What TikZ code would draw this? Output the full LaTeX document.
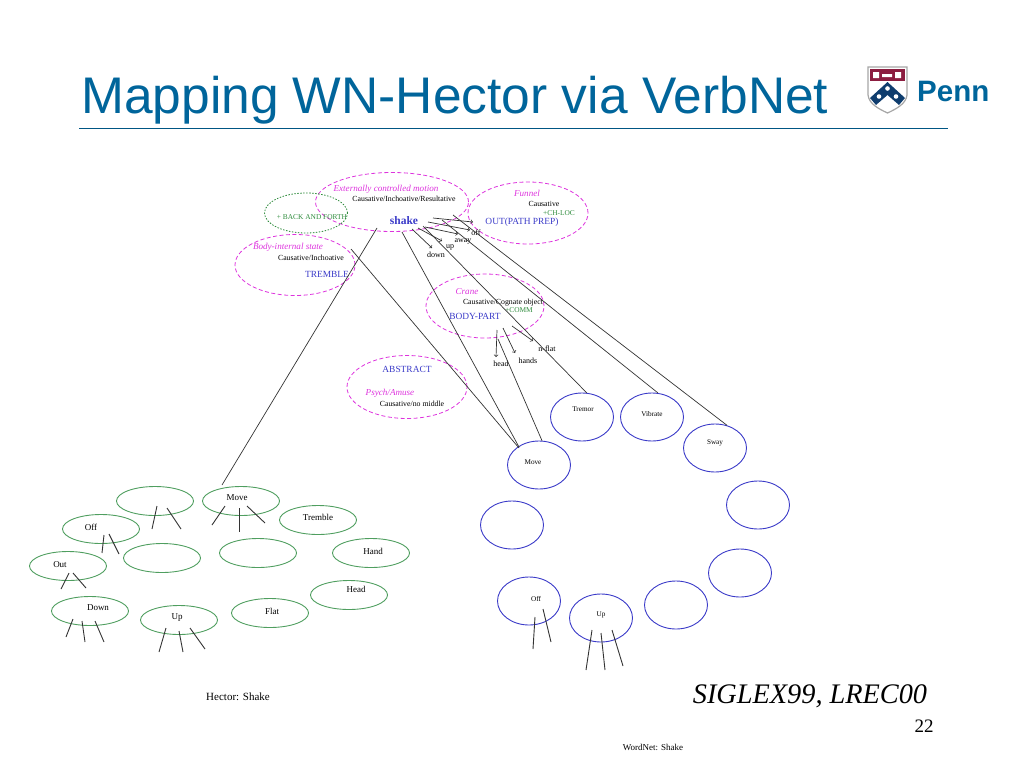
\documentclass[tikz,border=0pt]{standalone}
\usepackage{fontspec}
\setmainfont{Liberation Serif}
\newfontfamily\titlefont{Liberation Sans}
\usetikzlibrary{shapes.geometric}
\definecolor{pennblue}{HTML}{00659B}
\definecolor{pennnavy}{HTML}{0F3D6E}
\definecolor{pennred}{HTML}{8C1D40}
\definecolor{classpink}{HTML}{DD33DD}
\definecolor{wnblue}{HTML}{3A3AC8}
\definecolor{hectorgreen}{HTML}{4F9E5F}
\definecolor{featgreen}{HTML}{2E8B3C}
\tikzset{
    classell/.style={ellipse, draw=classpink, dash pattern=on 4pt off 2.5pt, line width=0.8pt, inner sep=0pt},
    featell/.style={ellipse, draw=featgreen, dash pattern=on 1.5pt off 1.5pt, line width=0.8pt, inner sep=0pt,
        minimum width=83pt, minimum height=40pt},
    wnell/.style={ellipse, draw=wnblue, line width=0.9pt, inner sep=0pt,
        minimum width=63pt, minimum height=48pt},
    hectorell/.style={ellipse, draw=hectorgreen, line width=0.9pt, inner sep=0pt,
        minimum width=77pt, minimum height=29pt},
    classname/.style={text=classpink, inner sep=0pt, font=\fontsize{9.1}{10}\selectfont\itshape},
    frametxt/.style={inner sep=0pt, font=\fontsize{7.8}{9}\selectfont},
    roletxt/.style={text=wnblue, inner sep=0pt, font=\fontsize{9.4}{10}\selectfont},
    feattxt/.style={text=featgreen, inner sep=0pt, font=\fontsize{7.4}{8}\selectfont},
    smalltxt/.style={inner sep=0pt, font=\fontsize{8}{9}\selectfont},
    wntxt/.style={inner sep=0pt, font=\fontsize{7.2}{8}\selectfont},
    hectortxt/.style={inner sep=0pt, font=\fontsize{9}{10}\selectfont},
    link/.style={line width=0.7pt, black!80},
    stub/.style={line width=0.9pt, black!80},
}
\begin{document}
\begin{tikzpicture}[x=1pt, y=-1pt]
    \useasboundingbox (0,0) rectangle (1024,768);

    % slide head
    \node [anchor=base west, inner sep=0pt, text=pennblue, font=\fontsize{51.5}{60}\selectfont\titlefont]
        (title) at (81,113) {Mapping WN-Hector via VerbNet};
    \node [anchor=base west, inner sep=0pt, text=pennblue, font=\fontsize{29.5}{32}\selectfont\titlefont\bfseries]
        (penn) at (917,101) {Penn};
    \draw [pennblue!85!black, line width=0.9pt]
        (79,128.5) -- (948,128.5)
        ;

    % shield
    \draw [fill=white, draw=black!35, line width=1.2pt]
        (868,67) -- (907,67) -- (907,95) .. controls (906,104) and (896,109) .. (887.5,113)
        .. controls (879,109) and (869,104) .. (868,95) -- cycle
        ;
    \fill [pennred]
        (870,69) rectangle (905,81)
        ;
    \fill [white]
        (873,72) rectangle (879,78)
        (895,72) rectangle (901,78)
        (882,74) rectangle (892,77)
        ;
    \fill [pennnavy]
        (887.5,82) -- (905,98) -- (899,105) -- (887.5,95) -- (876,105) -- (870,98) -- cycle
        ;
    \fill [white]
        (887.5,88.5) circle (2.3)
        (879,96.5) circle (2.3)
        (896,96.5) circle (2.3)
        ;

    % verb classes
    \node [classell, minimum width=153pt, minimum height=59pt] (extmotion) at (392,202) {};
    \node [classell, minimum width=120pt, minimum height=62pt] (funnel) at (528,213) {};
    \node [featell] (backforth) at (306,213) {};
    \node [classell, minimum width=120pt, minimum height=61pt] (bodystate) at (295,265) {};
    \node [classell, minimum width=118pt, minimum height=64pt] (crane) at (485,306) {};
    \node [classell, minimum width=120pt, minimum height=63pt] (psych) at (407,387) {};

    \node [classname] (extmotionname) at (386,189) {Externally controlled motion};
    \node [frametxt] (extmotionframe) at (404,199) {Causative/Inchoative/Resultative};
    \node [text=wnblue, inner sep=0pt, font=\fontsize{11.5}{13}\selectfont\bfseries] (shake) at (404,221) {shake};
    \node [classname] (funnelname) at (527,193) {Funnel};
    \node [frametxt] (funnelframe) at (544,204) {Causative};
    \node [feattxt] (chloc) at (559,213) {+CH-LOC};
    \node [roletxt] (outpath) at (522,222) {OUT(PATH PREP)};
    \node [feattxt] (backforthtxt) at (312,217) {+ BACK AND FORTH};
    \node [classname] (bodystatename) at (288,247) {Body-internal state};
    \node [frametxt] (bodystateframe) at (311,258) {Causative/Inchoative};
    \node [roletxt] (tremble) at (327,274) {TREMBLE};
    \node [classname] (cranename) at (467,292) {Crane};
    \node [frametxt] (craneframe) at (503,303) {Causative/Cognate object};
    \node [feattxt] (comm) at (519,310) {+COMM};
    \node [roletxt] (bodypart) at (475,316) {BODY-PART};
    \node [roletxt] (abstract) at (407,369) {ABSTRACT};
    \node [classname] (psychname) at (390,393) {Psych/Amuse};
    \node [frametxt] (psychframe) at (412,404) {Causative/no middle};

    % particles and nouns
    \node [smalltxt] (offtxt) at (476,233) {off};
    \node [smalltxt] (awaytxt) at (463,241) {away};
    \node [smalltxt] (uptxt) at (450,247) {up};
    \node [smalltxt] (downtxt) at (436,255) {down};
    \node [smalltxt] (headtxt) at (501,364) {head};
    \node [smalltxt] (handstxt) at (528,361) {hands};
    \node [smalltxt] (flattxt) at (547,349) {n-flat};

    % WordNet senses
    \node [wnell] (wntremor) at (582,417) {};
    \node [wnell] (wnvibrate) at (652,417) {};
    \node [wnell] (wnsway) at (715,448) {};
    \node [wnell] (wnmove) at (539,465) {};
    \node [wnell] (wnright) at (758,505) {};
    \node [wnell] (wnleft) at (512,525) {};
    \node [wnell] (wnlower) at (740,573) {};
    \node [wnell] (wnbottom) at (676,605) {};
    \node [wnell] (wnoff) at (529,601) {};
    \node [wnell] (wnup) at (601,618) {};

    \node [wntxt] (wntremortxt) at (583,409) {Tremor};
    \node [wntxt] (wnvibratetxt) at (652,414) {Vibrate};
    \node [wntxt] (wnswaytxt) at (715,443) {Sway};
    \node [wntxt] (wnmovetxt) at (533,462) {Move};
    \node [wntxt] (wnofftxt) at (536,599) {Off};
    \node [wntxt] (wnuptxt) at (601,615) {Up};

    % Hector senses
    \node [hectorell] (hemptytop) at (155,501) {};
    \node [hectorell] (hmove) at (241,501) {};
    \node [hectorell] (htremble) at (318,520) {};
    \node [hectorell] (hoff) at (101,529) {};
    \node [hectorell] (hemptymid) at (162,558) {};
    \node [hectorell] (hemptyright) at (258,553) {};
    \node [hectorell] (hhand) at (371,553) {};
    \node [hectorell] (hout) at (68,566) {};
    \node [hectorell] (hhead) at (349,595) {};
    \node [hectorell] (hdown) at (90,611) {};
    \node [hectorell] (hup) at (179,620) {};
    \node [hectorell] (hflat) at (270,613) {};

    \node [hectortxt] (hmovetxt) at (237,498) {Move};
    \node [hectortxt] (htrembletxt) at (318,517) {Tremble};
    \node [hectortxt] (hofftxt) at (91,527) {Off};
    \node [hectortxt] (hhandtxt) at (373,551) {Hand};
    \node [hectortxt] (houttxt) at (60,565) {Out};
    \node [hectortxt] (hheadtxt) at (356,589) {Head};
    \node [hectortxt] (hdowntxt) at (98,608) {Down};
    \node [hectortxt] (huptxt) at (177,618) {Up};
    \node [hectortxt] (hflattxt) at (272,611) {Flat};

    % captions
    \node [inner sep=0pt, anchor=base, font=\fontsize{11}{12}\selectfont] (hcaption) at (238,700) {Hector: Shake};
    \node [inner sep=0pt, anchor=base, font=\fontsize{9}{10}\selectfont] (wncaption) at (653,750) {WordNet: Shake};
    \node [inner sep=0pt, anchor=base, font=\fontsize{28.3}{30}\selectfont\itshape] (venue) at (810,703) {SIGLEX99, LREC00};
    \node [inner sep=0pt, anchor=base, font=\fontsize{19}{21}\selectfont] (pagenum) at (924,732) {22};

    % ends of the connectors
    \coordinate (shakeoffa) at (433,218);
    \coordinate (shakeoffb) at (473,222);
    \coordinate (shakeoffc) at (428,222);
    \coordinate (shakeoffd) at (470,230);
    \coordinate (shakeawaya) at (425,227);
    \coordinate (shakeawayb) at (458,234);
    \coordinate (shakeupa) at (418,228);
    \coordinate (shakeupb) at (442,241);
    \coordinate (shakedowna) at (412,229);
    \coordinate (shakedownb) at (432,248);
    \coordinate (cranehead) at (497,330);
    \coordinate (craneheadb) at (496,357);
    \coordinate (cranehands) at (503,328);
    \coordinate (cranehandsb) at (515,353);
    \coordinate (craneflat) at (512,326);
    \coordinate (craneflatb) at (533,341);

    \coordinate (linkhmove) at (377,228);
    \coordinate (linkhmoveb) at (222,485);
    \coordinate (linkbody) at (351,249);
    \coordinate (linkbodyb) at (519,448);
    \coordinate (linkshake) at (402,232);
    \coordinate (linkshakeb) at (519,447);
    \coordinate (linkcrane) at (498,339);
    \coordinate (linktremor) at (423,226);
    \coordinate (linkvibrate) at (442,220);
    \coordinate (linksway) at (453,215);

    % arrows to the particles and nouns
    \draw [->, link] (shakeoffa) -- (shakeoffb);
    \draw [->, link] (shakeoffc) -- (shakeoffd);
    \draw [->, link] (shakeawaya) -- (shakeawayb);
    \draw [->, link] (shakeupa) -- (shakeupb);
    \draw [->, link] (shakedowna) -- (shakedownb);
    \draw [->, link] (cranehead) -- (craneheadb);
    \draw [->, link] (cranehands) -- (cranehandsb);
    \draw [->, link] (craneflat) -- (craneflatb);

    % long links
    \draw [link] (linkhmove) -- (linkhmoveb);
    \draw [link] (linkbody) -- (linkbodyb);
    \draw [link] (linkshake) -- (linkshakeb);
    \draw [link] (linkcrane) -- (wnmove.83);
    \draw [link] (linktremor) -- (wntremor.79);
    \draw [link] (linkvibrate) -- (wnvibrate.76);
    \draw [link] (linksway) -- (wnsway.62);

    % stubs below the senses
    \coordinate (hta) at (157,506);
    \coordinate (htb) at (152,529);
    \coordinate (htc) at (167,508);
    \coordinate (htd) at (181,529);
    \coordinate (hma) at (225,506);
    \coordinate (hmb) at (212,525);
    \coordinate (hmc) at (239,508);
    \coordinate (hmd) at (239,532);
    \coordinate (hme) at (247,506);
    \coordinate (hmf) at (265,523);
    \coordinate (hfa) at (104,535);
    \coordinate (hfb) at (102,553);
    \coordinate (hfc) at (109,534);
    \coordinate (hfd) at (119,554);
    \coordinate (hoa) at (69,573);
    \coordinate (hob) at (61,589);
    \coordinate (hoc) at (73,573);
    \coordinate (hod) at (86,588);
    \coordinate (hda) at (73,619);
    \coordinate (hdb) at (66,637);
    \coordinate (hdc) at (82,621);
    \coordinate (hdd) at (85,642);
    \coordinate (hde) at (95,621);
    \coordinate (hdf) at (104,642);
    \coordinate (hua) at (166,628);
    \coordinate (hub) at (159,652);
    \coordinate (huc) at (179,631);
    \coordinate (hud) at (183,652);
    \coordinate (hue) at (190,628);
    \coordinate (huf) at (205,649);
    \coordinate (woa) at (535,617);
    \coordinate (wob) at (533,649);
    \coordinate (woc) at (543,609);
    \coordinate (wod) at (551,642);
    \coordinate (wua) at (592,630);
    \coordinate (wub) at (586,670);
    \coordinate (wuc) at (601,633);
    \coordinate (wud) at (605,670);
    \coordinate (wue) at (612,630);
    \coordinate (wuf) at (623,666);

    \draw [stub] (hta) -- (htb);
    \draw [stub] (htc) -- (htd);
    \draw [stub] (hma) -- (hmb);
    \draw [stub] (hmc) -- (hmd);
    \draw [stub] (hme) -- (hmf);
    \draw [stub] (hfa) -- (hfb);
    \draw [stub] (hfc) -- (hfd);
    \draw [stub] (hoa) -- (hob);
    \draw [stub] (hoc) -- (hod);
    \draw [stub] (hda) -- (hdb);
    \draw [stub] (hdc) -- (hdd);
    \draw [stub] (hde) -- (hdf);
    \draw [stub] (hua) -- (hub);
    \draw [stub] (huc) -- (hud);
    \draw [stub] (hue) -- (huf);
    \draw [stub] (woa) -- (wob);
    \draw [stub] (woc) -- (wod);
    \draw [stub] (wua) -- (wub);
    \draw [stub] (wuc) -- (wud);
    \draw [stub] (wue) -- (wuf);
\end{tikzpicture}
\end{document}
